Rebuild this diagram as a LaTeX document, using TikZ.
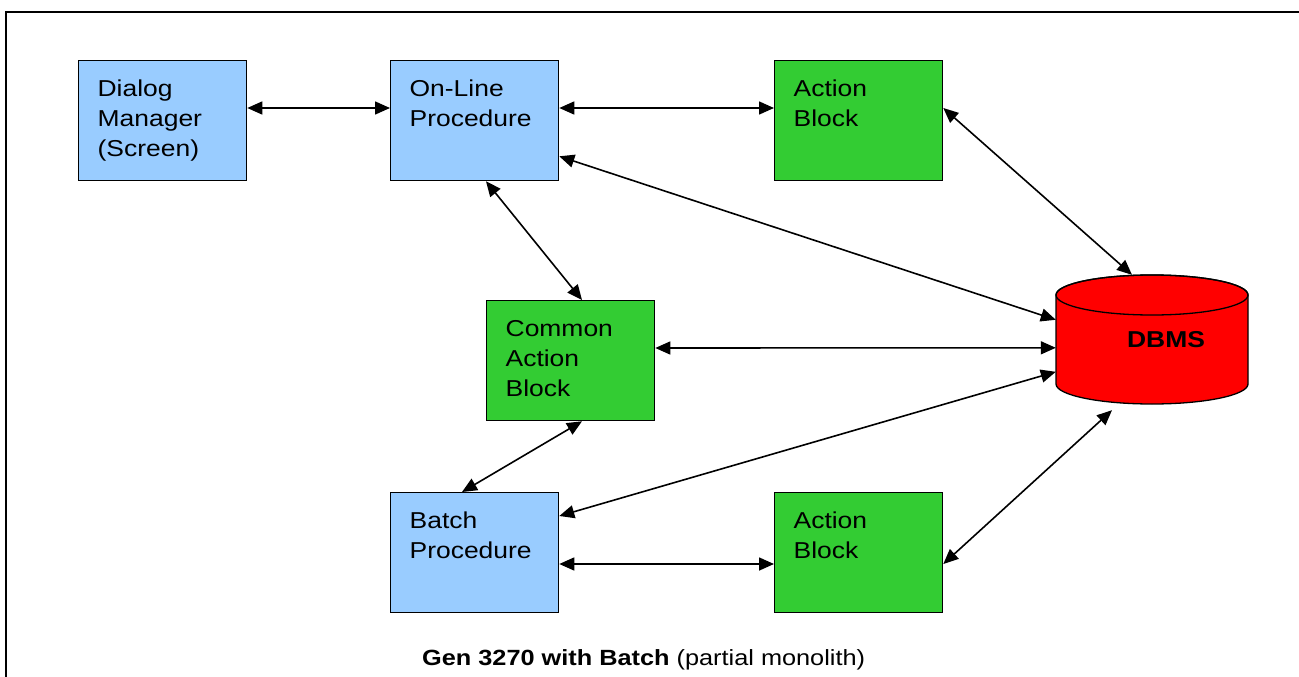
\documentclass[tikz,border=0pt]{standalone}
\usepackage{fontspec}
\setmainfont{Liberation Sans}[FakeStretch=1.15]
\usetikzlibrary{arrows.meta,calc}
\definecolor{boxblue}{HTML}{99CCFF}
\definecolor{boxgreen}{HTML}{33CC33}
\definecolor{dbred}{HTML}{FF0000}
\tikzset{
  box/.style={draw=black, line width=1.3pt, anchor=north west, minimum width=168pt, minimum height=120pt,
    inner xsep=19pt, inner ysep=0pt, text width=130pt, align=left,
    font=\fontsize{23pt}{30pt}\selectfont},
  bluebox/.style={box, fill=boxblue},
  greenbox/.style={box, fill=boxgreen},
  biarrow/.style={line width=1.6pt, {Triangle[length=15pt,width=13pt]}-{Triangle[length=15pt,width=13pt]}},
}
\newcommand{\mydepth}{\vphantom{(}}
\begin{document}
\begin{tikzpicture}[x=1pt,y=-1pt]
\useasboundingbox (0,0) rectangle (1299,677);
\draw[line width=2pt] (6,677) -- (6,12) -- (1299,12);

\node[bluebox] (dm) at (78,60) {Dialog\\Manager\\(Screen)};
\node[bluebox] (ol) at (390,60) {On-Line\\Procedure\\\mydepth};
\node[greenbox] (ab1) at (774,60) {Action\\Block\\\mydepth};
\node[greenbox] (cab) at (486,300) {Common\\Action\\Block\mydepth};
\node[bluebox] (bp) at (390,492) {Batch\\Procedure\\\mydepth};
\node[greenbox] (ab2) at (774,492) {Action\\Block\\\mydepth};

% DBMS cylinder
\filldraw[fill=dbred, draw=black, line width=1.3pt]
  (1056,295) -- (1056,384) arc (180:0:96 and 20) -- (1248,295) arc (0:-180:96 and 20) -- cycle;
\draw[line width=1.3pt] (1152,295) ellipse (96 and 20);
\node[minimum width=192pt, minimum height=129pt, inner sep=0pt] (db) at (1152,339.5) {};
\node[font=\fontsize{23pt}{28pt}\selectfont\bfseries] (dbl) at (1166,340) {DBMS};

\draw[biarrow] ($(dm.north east)+(0,48)$) -- ($(ol.north west)+(0,48)$);
\draw[biarrow] ($(ol.north east)+(0,48)$) -- ($(ab1.north west)+(0,48)$);
\draw[biarrow] ($(ab1.north east)+(0,48)$) -- ($(db.north)+(-20,0)$);
\draw[biarrow] ($(ol.south east)+(0,-25)$) -- ($(db.north west)+(0,45)$);
\draw[biarrow] ($(ol.south west)+(96,0)$) -- ($(cab.north west)+(96,0)$);
\draw[biarrow] ($(cab.north east)+(0,48)$) -- ($(db.north west)+(0,73)$);
\draw[biarrow] ($(cab.south west)+(96,0)$) -- ($(bp.north west)+(72,0)$);
\draw[biarrow] ($(bp.north east)+(0,24)$) -- ($(db.north west)+(0,97)$);
\draw[biarrow] ($(bp.north east)+(0,72)$) -- ($(ab2.north west)+(0,72)$);
\draw[biarrow] ($(ab2.north east)+(0,72)$) -- ($(db.south)+(-40,6)$);

\node[font=\fontsize{22pt}{26pt}\selectfont, anchor=base west, inner sep=0pt] (cap) at (422,665) {\textbf{Gen 3270 with Batch} (partial monolith)};
\end{tikzpicture}
\end{document}
